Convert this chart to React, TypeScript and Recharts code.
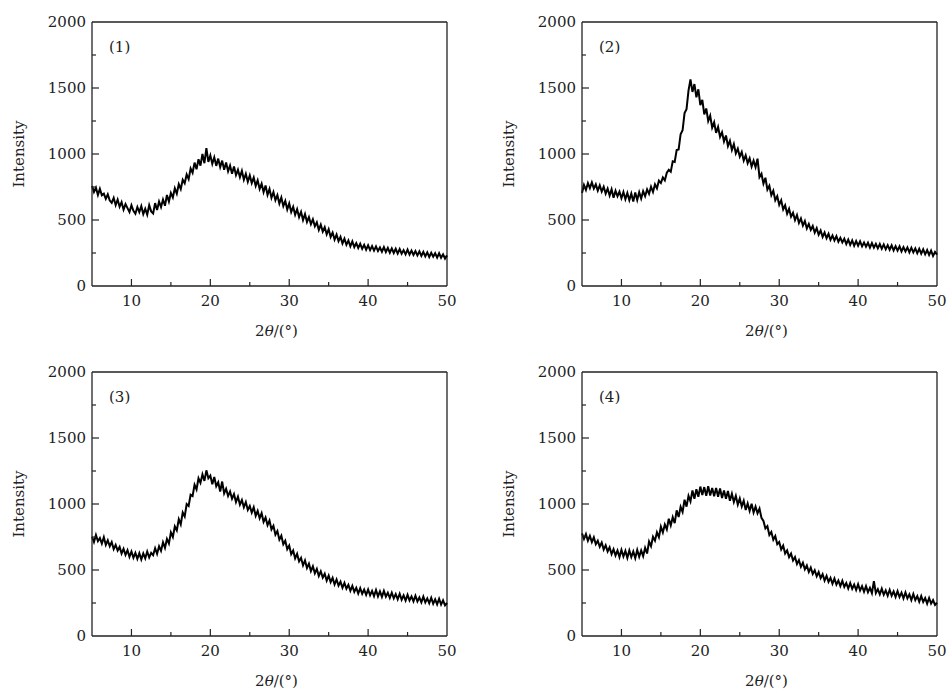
import React from 'react';
import { LineChart, Line, XAxis, YAxis, ReferenceLine, Label } from 'recharts';

// 2θ grid of the scans: 5° to 50° in 0.25° steps
const START = 5;
const STEP = 0.25;

const xTicks = [5, 10, 15, 20, 25, 30, 35, 40, 45, 50];
const yTicks = [0, 250, 500, 750, 1000, 1250, 1500, 1750, 2000];

// sample (1), one row per 5°
const intensity1 = [
  758, 712, 745, 690, 736, 688, 700, 660, 694, 648, 630, 668, 612, 655, 600, 635, 578, 620, 590, 560,
  612, 570, 548, 598, 560, 605, 545, 585, 540, 612, 565, 550, 628, 575, 640, 598, 655, 608, 690, 640,
  705, 670, 740, 700, 772, 735, 805, 778, 845, 810, 890, 858, 935, 885, 960, 912, 1000, 930, 1045, 940,
  990, 925, 975, 910, 965, 900, 950, 880, 935, 868, 912, 850, 905, 840, 880, 825, 872, 805, 850, 790,
  838, 780, 822, 758, 800, 735, 775, 712, 762, 690, 735, 668, 712, 650, 688, 625, 670, 605, 645, 580,
  625, 560, 600, 540, 582, 522, 562, 500, 545, 485, 522, 468, 505, 452, 482, 425, 465, 412, 445, 392,
  430, 372, 405, 352, 390, 340, 372, 322, 358, 312, 345, 300, 338, 295, 325, 288, 320, 282, 312, 275,
  308, 272, 302, 268, 300, 265, 292, 260, 295, 258, 288, 252, 285, 250, 282, 246, 280, 245, 272, 240,
  275, 238, 268, 235, 265, 232, 262, 228, 258, 225, 255, 220, 252, 222, 248, 215, 248, 214, 240, 208,
  232,
];

// sample (2)
const intensity2 = [
  705, 765, 728, 780, 742, 785, 738, 770, 722, 762, 715, 752, 700, 738, 685, 732, 668, 722, 680, 715,
  665, 712, 658, 705, 650, 700, 640, 708, 652, 710, 662, 718, 680, 732, 698, 752, 712, 770, 740, 798,
  780, 822, 800, 858, 880, 865, 945, 940, 1030, 1035, 1150, 1180, 1310, 1340, 1480, 1565, 1470, 1530, 1430, 1490,
  1370, 1410, 1300, 1345, 1250, 1290, 1200, 1240, 1160, 1205, 1130, 1165, 1095, 1140, 1060, 1100, 1030, 1075, 1005, 1040,
  980, 1015, 950, 990, 930, 968, 905, 950, 900, 965, 825, 850, 775, 820, 730, 760, 688, 722, 650, 680,
  615, 650, 580, 612, 548, 585, 525, 555, 500, 538, 478, 512, 458, 492, 436, 470, 425, 455, 405, 438,
  388, 420, 372, 405, 362, 395, 350, 382, 345, 378, 335, 365, 330, 358, 318, 352, 312, 345, 305, 340,
  305, 338, 300, 330, 298, 328, 290, 325, 290, 320, 285, 318, 282, 315, 278, 310, 275, 308, 270, 302,
  268, 300, 262, 295, 262, 292, 255, 290, 255, 285, 248, 282, 245, 278, 240, 272, 235, 268, 228, 258,
  238,
];

// sample (3)
const intensity3 = [
  752, 712, 765, 718, 742, 700, 748, 690, 725, 680, 712, 658, 690, 648, 675, 625, 660, 615, 650, 600,
  640, 592, 630, 585, 628, 580, 625, 588, 640, 595, 630, 612, 665, 622, 680, 645, 710, 668, 735, 700,
  785, 750, 830, 800, 885, 845, 935, 905, 1000, 985, 1070, 1060, 1145, 1110, 1195, 1160, 1225, 1175, 1255, 1195,
  1215, 1150, 1205, 1135, 1165, 1095, 1170, 1080, 1115, 1060, 1095, 1040, 1075, 1015, 1055, 995, 1030, 975, 1015, 955,
  985, 935, 975, 910, 948, 892, 930, 865, 898, 840, 875, 808, 835, 768, 795, 730, 760, 695, 722, 658,
  685, 620, 648, 588, 622, 565, 592, 535, 572, 515, 548, 492, 528, 475, 508, 455, 490, 442, 472, 420,
  458, 408, 440, 390, 428, 382, 412, 365, 402, 358, 388, 342, 380, 335, 365, 322, 362, 320, 352, 312,
  352, 308, 342, 302, 348, 300, 338, 296, 342, 298, 328, 288, 328, 285, 318, 278, 320, 275, 308, 268,
  312, 270, 300, 262, 305, 262, 292, 255, 298, 255, 285, 248, 290, 245, 278, 240, 282, 238, 270, 232,
  250,
];

// sample (4)
const intensity4 = [
  778, 735, 772, 722, 758, 712, 748, 695, 722, 676, 708, 655, 688, 640, 672, 620, 658, 610, 648, 598,
  652, 602, 645, 592, 648, 598, 640, 590, 652, 600, 648, 605, 668, 625, 715, 680, 752, 722, 785, 748,
  828, 785, 845, 808, 888, 838, 900, 855, 952, 902, 978, 940, 1032, 980, 1062, 1020, 1102, 1040, 1112, 1055,
  1132, 1068, 1128, 1062, 1135, 1065, 1122, 1058, 1122, 1055, 1118, 1045, 1102, 1040, 1098, 1025, 1078, 1015, 1062, 995,
  1042, 982, 1025, 955, 1005, 948, 1002, 935, 980, 930, 965, 895, 872, 815, 832, 765, 788, 730, 758, 695,
  712, 655, 685, 625, 648, 598, 625, 572, 598, 545, 575, 525, 555, 505, 535, 485, 518, 470, 498, 452,
  485, 438, 468, 420, 455, 410, 440, 396, 435, 390, 420, 378, 418, 372, 402, 360, 402, 358, 390, 348,
  392, 345, 378, 335, 378, 332, 365, 325, 415, 325, 355, 315, 358, 312, 345, 305, 350, 305, 338, 296,
  340, 295, 328, 285, 330, 285, 315, 272, 318, 272, 302, 260, 302, 258, 288, 245, 288, 245, 272, 235,
  252,
];

const panels = [
  { tag: '(1)', values: intensity1, left: 92, top: 22 },
  { tag: '(2)', values: intensity2, left: 582, top: 22 },
  { tag: '(3)', values: intensity3, left: 92, top: 372 },
  { tag: '(4)', values: intensity4, left: 582, top: 372 },
];

const FONT = "'DejaVu Serif', serif";
const INK = '#222';
const Y_AXIS_W = 85;
const X_AXIS_H = 57;
const TOP = 10;
const PLOT_W = 355;
const PLOT_H = 264;

const XTick = ({ x, y, payload }: any) => {
  const v = payload.value;
  const major = v % 10 === 0;
  return (
    <g>
      {v !== 5 && v !== 50 ? <line x1={x} x2={x} y1={y} y2={y - (major ? 7 : 4)} stroke={INK} strokeWidth={1.2} /> : null}
      {major ? (
        <text x={x} y={y + 20} textAnchor="middle" fontFamily={FONT} fontSize={15} fill={INK}>
          {v}
        </text>
      ) : null}
    </g>
  );
};

const YTick = ({ x, y, payload }: any) => {
  const v = payload.value;
  const major = v % 500 === 0;
  return (
    <g>
      {v !== 0 && v !== 2000 ? <line x1={x} x2={x + (major ? 7 : 4)} y1={y} y2={y} stroke={INK} strokeWidth={1.2} /> : null}
      {major ? (
        <text x={x - 6} y={y + 5} textAnchor="end" fontFamily={FONT} fontSize={15} fill={INK}>
          {v}
        </text>
      ) : null}
    </g>
  );
};

const Panel = ({ tag, values, left, top }: { tag: string; values: number[]; left: number; top: number }) => {
  const data = values.map((v, i) => ({ x: START + i * STEP, v }));
  return (
    <div style={{ position: 'absolute', left: left - Y_AXIS_W, top: top - TOP }}>
      <LineChart
        width={Y_AXIS_W + PLOT_W + 10}
        height={TOP + PLOT_H + X_AXIS_H}
        data={data}
        margin={{ top: TOP, right: 10, bottom: 0, left: 0 }}
      >
        <XAxis
          dataKey="x"
          type="number"
          domain={[5, 50]}
          ticks={xTicks}
          interval={0}
          height={X_AXIS_H}
          tickSize={0}
          tickMargin={0}
          tickLine={false}
          tick={<XTick />}
          axisLine={{ stroke: INK, strokeWidth: 1.3 }}
        >
          <Label
            content={({ viewBox }: any) => (
              <text
                x={viewBox.x + viewBox.width / 2 + 7}
                y={viewBox.y + 50}
                textAnchor="middle"
                fontFamily={FONT}
                fontSize={15}
                fill={INK}
              >
                2<tspan fontStyle="italic">θ</tspan>/(°)
              </text>
            )}
          />
        </XAxis>
        <YAxis
          type="number"
          domain={[0, 2000]}
          ticks={yTicks}
          interval={0}
          width={Y_AXIS_W}
          tickSize={0}
          tickMargin={0}
          tickLine={false}
          tick={<YTick />}
          axisLine={{ stroke: INK, strokeWidth: 1.3 }}
        >
          <Label
            content={({ viewBox }: any) => {
              const cx = viewBox.x + 11.5;
              const cy = viewBox.y + viewBox.height / 2;
              return (
                <text
                  x={cx}
                  y={cy}
                  transform={`rotate(-90 ${cx} ${cy})`}
                  textAnchor="middle"
                  dominantBaseline="central"
                  fontFamily={FONT}
                  fontSize={15}
                  fill={INK}
                >
                  Intensity
                </text>
              );
            }}
          />
        </YAxis>
        <ReferenceLine x={50} stroke={INK} strokeWidth={1.3} />
        <ReferenceLine
          y={2000}
          stroke={INK}
          strokeWidth={1.3}
          label={({ viewBox }: any) => (
            <text x={viewBox.x + 17} y={viewBox.y + 30} fontFamily={FONT} fontSize={15} fill={INK}>
              {tag}
            </text>
          )}
        />
        <Line
          type="linear"
          dataKey="v"
          stroke="#000"
          strokeWidth={2}
          dot={false}
          isAnimationActive={false}
        />
      </LineChart>
    </div>
  );
}

export default function App() {
  return (
    <div style={{ position: 'absolute', left: 0, top: 0, width: 949, height: 693, background: '#fff' }}>
      {panels.map((p) => (
        <Panel key={p.tag} {...p} />
      ))}
    </div>
  );
}
